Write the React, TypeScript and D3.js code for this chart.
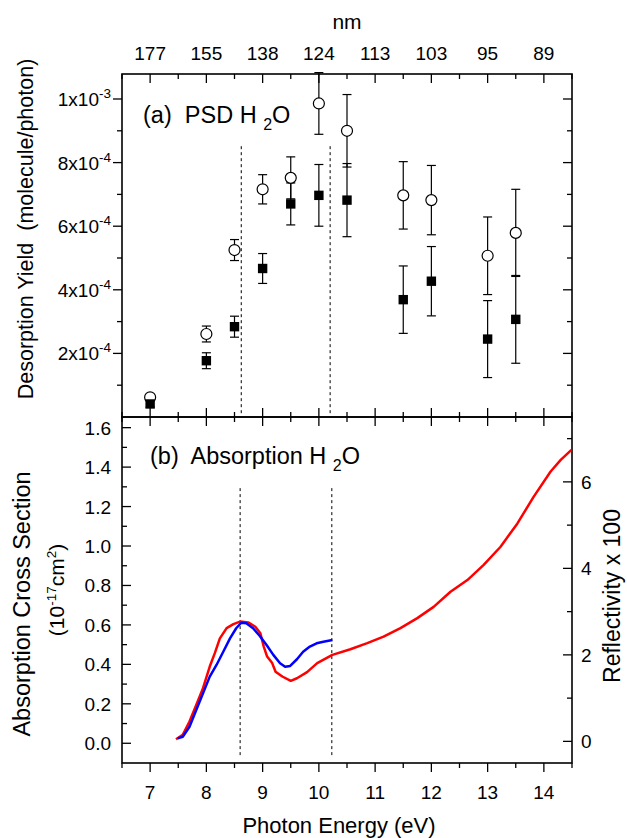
import React from 'react';
import * as d3 from 'd3';

// photon energies (eV) of the PSD measurements
const energies = [7.0, 8.0, 8.5, 9.0, 9.5, 10.0, 10.5, 11.5, 12.0, 13.0, 13.5];
const yieldOpen = [0.62e-4, 2.61e-4, 5.25e-4, 7.16e-4, 7.52e-4, 9.86e-4, 9.0e-4, 6.97e-4, 6.82e-4, 5.07e-4, 5.79e-4];
const errOpen = [0.05e-4, 0.25e-4, 0.33e-4, 0.46e-4, 0.66e-4, 0.97e-4, 1.14e-4, 1.06e-4, 1.09e-4, 1.22e-4, 1.37e-4];
const yieldFilled = [0.41e-4, 1.77e-4, 2.84e-4, 4.67e-4, 6.7e-4, 6.97e-4, 6.82e-4, 3.69e-4, 4.27e-4, 2.45e-4, 3.07e-4];
const errFilled = [0.1e-4, 0.25e-4, 0.33e-4, 0.47e-4, 0.66e-4, 0.97e-4, 1.15e-4, 1.06e-4, 1.09e-4, 1.21e-4, 1.38e-4];

// absorption cross section (10^-17 cm^2), blue
const absEnergy = [7.49, 7.58, 7.7, 7.82, 7.94, 8.06, 8.18, 8.3, 8.42, 8.53, 8.62, 8.71, 8.83, 8.95, 9.07, 9.19, 9.31, 9.4, 9.49, 9.61, 9.72, 9.84, 9.96, 10.08, 10.24];
const absValue = [0.025, 0.033, 0.084, 0.169, 0.253, 0.338, 0.397, 0.464, 0.532, 0.583, 0.611, 0.608, 0.583, 0.544, 0.498, 0.448, 0.406, 0.388, 0.392, 0.426, 0.464, 0.49, 0.507, 0.515, 0.524];

// reflectivity x 100, red
const reflEnergy = [7.46, 7.58, 7.7, 7.82, 7.94, 8.06, 8.15, 8.24, 8.36, 8.48, 8.6, 8.75, 8.87, 8.96, 9.02, 9.08, 9.17, 9.23, 9.35, 9.5, 9.61, 9.79, 9.97, 10.24, 10.56, 10.86, 11.15, 11.45, 11.75, 12.04, 12.34, 12.64, 12.93, 13.23, 13.53, 13.82, 14.12, 14.3, 14.49];
const reflValue = [0.05, 0.15, 0.46, 0.84, 1.23, 1.73, 2.04, 2.38, 2.62, 2.71, 2.77, 2.75, 2.65, 2.5, 2.19, 1.96, 1.81, 1.61, 1.5, 1.4, 1.46, 1.6, 1.81, 2.0, 2.13, 2.27, 2.42, 2.62, 2.85, 3.11, 3.46, 3.73, 4.08, 4.5, 5.04, 5.66, 6.24, 6.51, 6.74];

// axis ticks
const eVTicks = [7, 8, 9, 10, 11, 12, 13, 14];
const nmLabels = ['177', '155', '138', '124', '113', '103', '95', '89'];
const yieldTicks = [2e-4, 4e-4, 6e-4, 8e-4, 1e-3];
const yieldMant = ['2', '4', '6', '8', '1'];
const yieldExp = ['-4', '-4', '-4', '-4', '-3'];
const absTicks = [0, 0.2, 0.4, 0.6, 0.8, 1.0, 1.2, 1.4, 1.6];
const reflTicks = [0, 2, 4, 6];

// dashed guide lines (eV)
const guideTop = [8.62, 10.2];
const guideTopRange = [0.12e-4, 8.6e-4];
const guideBottom = [8.6, 10.23];
const guideBottomRange = [-0.06, 1.3];

const FONT = "'Liberation Sans', Arial, Helvetica, sans-serif";
const TICK_FS = 19;
const TITLE_FS = 22;

const App: React.FC = () => {
  const W = 627;
  const H = 838;
  const left = 122;
  const right = 572;
  const topA = 74;
  const botA = 417;
  const botB = 763;

  const x = d3.scaleLinear().domain([6.5, 14.5]).range([left, right]);
  const yA = d3.scaleLinear().domain([0, 1.0786e-3]).range([botA, topA]);
  const yL = d3.scaleLinear().domain([-0.1, 1.654]).range([botB, botA]);
  const yR = d3.scaleLinear().domain([-0.5, 7.5]).range([botB, botA]);

  const majX = eVTicks;
  const minX = d3.range(6.5, 14.6, 1);
  const minYield = d3.range(1e-4, 10.5e-4, 2e-4);
  const minAbs = d3.range(0.1, 1.6, 0.2);
  const minRefl = [1, 3, 5, 7];

  const absLine = d3
    .line<number>()
    .x((d, i) => x(absEnergy[i]))
    .y((d) => yL(d));
  const reflLine = d3
    .line<number>()
    .x((d, i) => x(reflEnergy[i]))
    .y((d) => yR(d));

  const tick = (key: string, x1: number, y1: number, x2: number, y2: number) => (
    <line key={key} x1={x1} y1={y1} x2={x2} y2={y2} stroke="#000" strokeWidth={1.3} />
  );

  const errorBar = (e: number, v: number, err: number, key: string) => {
    const cx = x(e);
    const y1 = yA(v - err);
    const y2 = yA(v + err);
    return (
      <g key={key} stroke="#000" strokeWidth={1.2}>
        <line x1={cx} x2={cx} y1={y1} y2={y2} />
        <line x1={cx - 4.5} x2={cx + 4.5} y1={y1} y2={y1} />
        <line x1={cx - 4.5} x2={cx + 4.5} y1={y2} y2={y2} />
      </g>
    );
  };

  return (
    <svg width={W} height={H} style={{ position: 'absolute', left: 0, top: 0, background: '#fff' }} fontFamily={FONT}>
      {/* top axis (nm) */}
      <text x={347} y={29} fontSize={21} textAnchor="middle">nm</text>
      {nmLabels.map((t, i) => (
        <text key={'nm' + i} x={x(eVTicks[i])} y={60} fontSize={TICK_FS} textAnchor="middle">{t}</text>
      ))}

      {/* panel (a) ticks */}
      {majX.map((v) => tick('ta' + v, x(v), topA, x(v), topA + 9))}
      {minX.map((v) => tick('tam' + v, x(v), topA, x(v), topA + 5))}
      {majX.map((v) => tick('ba' + v, x(v), botA, x(v), botA - 9))}
      {minX.map((v) => tick('bam' + v, x(v), botA, x(v), botA - 5))}
      {yieldTicks.map((v) => tick('la' + v, left, yA(v), left - 9, yA(v)))}
      {minYield.map((v) => tick('lam' + v, left, yA(v), left - 5, yA(v)))}
      {yieldTicks.map((v) => tick('ra' + v, right, yA(v), right - 9, yA(v)))}
      {minYield.map((v) => tick('ram' + v, right, yA(v), right - 5, yA(v)))}
      {yieldTicks.map((v, i) => (
        <text key={'yl' + i} x={111} y={yA(v) + 7} fontSize={TICK_FS} textAnchor="end">
          {yieldMant[i]}x10
          <tspan dy={-8} fontSize={13.5}>{yieldExp[i]}</tspan>
        </text>
      ))}

      {/* panel (b) ticks */}
      {majX.map((v) => tick('tb' + v, x(v), botA, x(v), botA + 9))}
      {minX.map((v) => tick('tbm' + v, x(v), botA, x(v), botA + 5))}
      {majX.map((v) => tick('bb' + v, x(v), botB, x(v), botB + 9))}
      {minX.map((v) => tick('bbm' + v, x(v), botB, x(v), botB + 5))}
      {absTicks.map((v) => tick('lb' + v, left, yL(v), left + 9, yL(v)))}
      {minAbs.map((v) => tick('lbm' + v, left, yL(v), left + 5, yL(v)))}
      {reflTicks.map((v) => tick('rb' + v, right, yR(v), right - 9, yR(v)))}
      {minRefl.map((v) => tick('rbm' + v, right, yR(v), right - 5, yR(v)))}
      {absTicks.map((v) => (
        <text key={'al' + v} x={111} y={yL(v) + 7} fontSize={TICK_FS} textAnchor="end">{v.toFixed(1)}</text>
      ))}
      {reflTicks.map((v) => (
        <text key={'rl' + v} x={581} y={yR(v) + 7} fontSize={TICK_FS}>{v}</text>
      ))}
      {eVTicks.map((v) => (
        <text key={'xl' + v} x={x(v)} y={799} fontSize={TICK_FS} textAnchor="middle">{v}</text>
      ))}

      {/* frames */}
      <rect x={left} y={topA} width={right - left} height={botA - topA} fill="none" stroke="#000" strokeWidth={1.6} />
      <rect x={left} y={botA} width={right - left} height={botB - botA} fill="none" stroke="#000" strokeWidth={1.6} />

      {/* dashed guides */}
      {guideTop.map((e) => (
        <line key={'gt' + e} x1={x(e)} x2={x(e)} y1={yA(guideTopRange[0])} y2={yA(guideTopRange[1])} stroke="#000" strokeWidth={1} strokeDasharray="3,3" />
      ))}
      {guideBottom.map((e) => (
        <line key={'gb' + e} x1={x(e)} x2={x(e)} y1={yL(guideBottomRange[0])} y2={yL(guideBottomRange[1])} stroke="#000" strokeWidth={1} strokeDasharray="3,3" />
      ))}

      {/* PSD data */}
      {energies.map((e, i) => errorBar(e, yieldOpen[i], errOpen[i], 'eo' + i))}
      {energies.map((e, i) => errorBar(e, yieldFilled[i], errFilled[i], 'ef' + i))}
      {energies.map((e, i) => (
        <circle key={'c' + i} cx={x(e)} cy={yA(yieldOpen[i])} r={5.5} fill="#fff" stroke="#000" strokeWidth={1.2} />
      ))}
      {energies.map((e, i) => (
        <rect key={'s' + i} x={x(e) - 4.7} y={yA(yieldFilled[i]) - 4.7} width={9.4} height={9.4} fill="#000" />
      ))}

      {/* absorption curves */}
      <path d={reflLine(reflValue) || ''} fill="none" stroke="#ff0000" strokeWidth={2.5} strokeLinejoin="round" />
      <path d={absLine(absValue) || ''} fill="none" stroke="#0000ff" strokeWidth={2.5} strokeLinejoin="round" />

      {/* panel labels */}
      <text x={143} y={123} fontSize={23.5} xmlSpace="preserve">
        (a)  PSD H <tspan dy={7} fontSize={16}>2</tspan><tspan dy={-7}>O</tspan>
      </text>
      <text x={150} y={464} fontSize={23.5} xmlSpace="preserve">
        (b)  Absorption H <tspan dy={7} fontSize={16}>2</tspan><tspan dy={-7}>O</tspan>
      </text>

      {/* axis titles */}
      <text x={339} y={833} fontSize={TITLE_FS} textAnchor="middle">Photon Energy (eV)</text>
      <text transform="translate(33,229) rotate(-90)" fontSize={21.5} textAnchor="middle" xmlSpace="preserve">
        Desorption Yield  (molecule/photon)
      </text>
      <text transform="translate(30,604) rotate(-90)" fontSize={23.5} textAnchor="middle">Absorption Cross Section</text>
      <text transform="translate(64,590) rotate(-90)" fontSize={21} textAnchor="middle">
        (10<tspan dy={-8} fontSize={13.5}>-17</tspan>
        <tspan dy={8}>cm</tspan>
        <tspan dy={-8} fontSize={13.5}>2</tspan>
        <tspan dy={8}>)</tspan>
      </text>
      <text transform="translate(620,596) rotate(-90)" fontSize={23} textAnchor="middle">Reflectivity x 100</text>
    </svg>
  );
};

export default App;
